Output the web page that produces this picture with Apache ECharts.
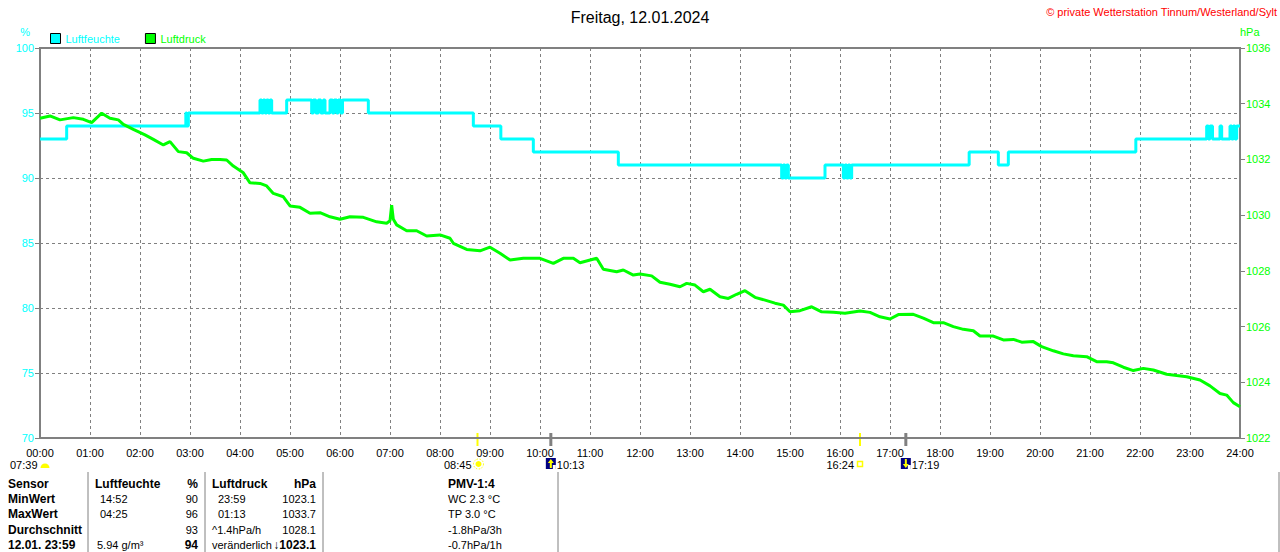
<!DOCTYPE html>
<html>
<head>
<meta charset="utf-8">
<title>Freitag, 12.01.2024</title>
<script src="https://cdn.jsdelivr.net/npm/echarts@6/dist/echarts.min.js"></script>
<style>
  html, body { margin: 0; padding: 0; background: #fff; }
  #main { width: 1280px; height: 552px; }
</style>
</head>
<body>
<div id="main"></div>
<script>
var FONT = 'Liberation Sans, Arial, sans-serif';

// Luftfeuchte (%) - Stufenwerte, Zeit in Minuten seit 00:00
var humTime = [0, 32, 175, 176, 178, 264, 266, 268, 270, 272, 274, 276, 278, 296,
    326, 328, 331, 334, 337, 340, 342, 348, 351, 353, 356, 358, 361, 363, 394,
    520, 553, 592, 694, 890, 892, 894, 896, 898, 942, 964, 966, 968, 970, 972, 974,
    1115, 1150, 1162, 1315, 1400, 1402, 1404, 1407, 1416, 1418, 1428, 1430, 1432, 1434, 1436, 1440];
var humValue = [93, 94, 95, 94, 95, 96, 95, 96, 95, 96, 95, 96, 95, 96,
    95, 96, 95, 96, 95, 96, 95, 96, 95, 96, 95, 96, 95, 96, 95,
    94, 93, 92, 91, 90, 91, 90, 91, 90, 91, 90, 91, 90, 91, 90, 91,
    92, 91, 92, 93, 94, 93, 94, 93, 94, 93, 94, 93, 94, 93, 94, 94];

// Luftdruck (hPa)
var pressTime = [0, 12, 24, 40, 52, 62, 74, 84, 94, 100, 112, 126, 136, 148, 156, 166, 176, 184,
    196, 206, 216, 224, 232, 244, 252, 264, 272, 280, 292, 300, 312, 324, 336, 348, 360, 372,
    388, 404, 416, 420, 422, 424, 428, 440, 452, 464, 480, 492, 496, 512, 528, 540, 552, 564,
    580, 600, 616, 628, 640, 648, 668, 676, 692, 700, 712, 720, 734, 744, 756, 768, 776, 786,
    796, 804, 816, 826, 836, 846, 858, 870, 882, 892, 900, 912, 926, 938, 952, 966, 984, 996,
    1008, 1020, 1030, 1048, 1060, 1072, 1084, 1096, 1108, 1120, 1128, 1144, 1156, 1168, 1178,
    1192, 1202, 1216, 1228, 1240, 1256, 1268, 1280, 1288, 1300, 1312, 1324, 1336, 1352, 1364,
    1376, 1392, 1404, 1416, 1424, 1432, 1440];
var pressValue = [1033.48, 1033.56, 1033.42, 1033.50, 1033.44, 1033.32, 1033.66, 1033.48, 1033.42,
    1033.26, 1033.08, 1032.88, 1032.72, 1032.52, 1032.64, 1032.28, 1032.24, 1032.04,
    1031.94, 1032.00, 1032.00, 1031.98, 1031.76, 1031.52, 1031.16, 1031.14, 1031.05, 1030.78,
    1030.66, 1030.33, 1030.28, 1030.07, 1030.09, 1029.94, 1029.85, 1029.94,
    1029.92, 1029.76, 1029.71, 1029.80, 1030.36, 1029.85, 1029.65, 1029.44, 1029.44, 1029.25,
    1029.29, 1029.17, 1028.99, 1028.77, 1028.72, 1028.85, 1028.63, 1028.39,
    1028.45, 1028.45, 1028.27, 1028.45, 1028.45, 1028.29, 1028.45, 1028.06, 1027.97, 1028.03,
    1027.85, 1027.89, 1027.82, 1027.59, 1027.52, 1027.43, 1027.55, 1027.49,
    1027.25, 1027.34, 1027.07, 1027.01, 1027.16, 1027.29, 1027.05, 1026.95, 1026.84, 1026.77,
    1026.53, 1026.57, 1026.71, 1026.53, 1026.51, 1026.48, 1026.56, 1026.51,
    1026.35, 1026.27, 1026.43, 1026.44, 1026.30, 1026.14, 1026.14, 1026.00, 1025.90, 1025.85,
    1025.66, 1025.66, 1025.52, 1025.54, 1025.44,
    1025.46, 1025.28, 1025.13, 1025.02, 1024.95, 1024.92, 1024.74, 1024.74, 1024.70, 1024.54,
    1024.42, 1024.50, 1024.44, 1024.29, 1024.24,
    1024.20, 1024.08, 1023.87, 1023.60, 1023.54, 1023.27, 1023.12];

// Sonnenauf-/untergang, Mondauf-/untergang (Minuten)
var sunTimes = [525, 613, 984, 1039];
var sunLabels = ['08:45', '10:13', '16:24', '17:19'];

// Tabelle unten
var tableRows = [
    ['Sensor', 'Luftfeuchte', '', '%', 'Luftdruck', '', 'hPa', 'PMV-1:4'],
    ['MinWert', '14:52', '', '90', '23:59', '', '1023.1', 'WC 2.3 °C'],
    ['MaxWert', '04:25', '', '96', '01:13', '', '1033.7', 'TP 3.0 °C'],
    ['Durchschnitt', '', '', '93', '^1.4hPa/h', '', '1028.1', '-1.8hPa/3h'],
    ['12.01. 23:59', '5.94 g/m³', '', '94', 'veränderlich', '', '↓1023.1', '-0.7hPa/1h']
];
var tableSeps = [88, 205, 323, 558, 1279];

function pad(n) { return (n < 10 ? '0' : '') + n; }

var myChart = echarts.init(document.getElementById('main'), null, { renderer: 'svg' });

var option = {
    animation: false,
    backgroundColor: '#fff',
    textStyle: { fontFamily: FONT },
    title: {
        text: 'Freitag, 12.01.2024',
        left: 'center',
        top: 4,
        textStyle: { fontSize: 16, fontWeight: 'normal', color: '#000', fontFamily: FONT }
    },
    legend: {
        left: 50,
        top: 33,
        padding: 0,
        itemWidth: 10,
        itemHeight: 10,
        itemGap: 25,
        icon: 'rect',
        textStyle: { fontSize: 11, fontFamily: FONT },
        data: [
            { name: 'Luftfeuchte', textStyle: { color: '#00ffff' }, itemStyle: { color: '#00ffff', borderColor: '#000', borderWidth: 1 } },
            { name: 'Luftdruck', textStyle: { color: '#00ff00' }, itemStyle: { color: '#00ff00', borderColor: '#000', borderWidth: 1 } }
        ]
    },
    grid: {
        left: 40, right: 40, top: 48, bottom: 114,
        show: true, borderColor: '#808080', borderWidth: 2
    },
    xAxis: {
        type: 'value',
        min: 0,
        max: 1440,
        interval: 60,
        axisLine: { show: true, lineStyle: { color: '#808080', width: 2 } },
        axisTick: { show: false },
        axisLabel: {
            color: '#000', fontSize: 11, fontFamily: FONT, margin: 9,
            showMaxLabel: true,
            formatter: function (v) { return pad(Math.floor(v / 60)) + ':00'; }
        },
        splitLine: { show: true, lineStyle: { color: '#808080', type: [3, 3], width: 1 } }
    },
    yAxis: [
        {
            type: 'value',
            min: 70,
            max: 100,
            interval: 5,
            position: 'left',
            name: '%',
            nameLocation: 'end',
            nameGap: 11,
            nameTextStyle: { color: '#00ffff', fontSize: 11, fontFamily: FONT, align: 'right', padding: [0, 10, 0, 0] },
            axisLine: { show: true, lineStyle: { color: '#808080', width: 2 } },
            axisTick: { show: true, length: 5, lineStyle: { color: '#808080' } },
            axisLabel: { color: '#00ffff', fontSize: 11, fontFamily: FONT, margin: 6 },
            splitLine: { show: true, lineStyle: { color: '#808080', type: [3, 3], width: 1 } }
        },
        {
            type: 'value',
            min: 1022,
            max: 1036,
            interval: 2,
            position: 'right',
            name: 'hPa',
            nameLocation: 'end',
            nameGap: 11,
            nameTextStyle: { color: '#00ff00', fontSize: 11, fontFamily: FONT, align: 'left', padding: [0, 0, 0, 0] },
            axisLine: { show: true, lineStyle: { color: '#808080', width: 2 } },
            axisTick: { show: true, length: 5, lineStyle: { color: '#808080' } },
            axisLabel: {
                color: '#00ff00', fontSize: 11, fontFamily: FONT, margin: 6,
                formatter: function (v) { return String(v); }
            },
            splitLine: { show: false }
        }
    ],
    series: [
        {
            name: 'Luftfeuchte',
            type: 'line',
            yAxisIndex: 0,
            step: 'end',
            showSymbol: false,
            color: '#00ffff',
            lineStyle: { color: '#00ffff', width: 3 },
            data: humTime.map(function (t, i) { return [t, humValue[i]]; })
        },
        {
            name: 'Luftdruck',
            type: 'line',
            yAxisIndex: 1,
            showSymbol: false,
            color: '#00ff00',
            lineStyle: { color: '#00ff00', width: 3 },
            data: pressTime.map(function (t, i) { return [t, pressValue[i]]; })
        }
    ]
};

myChart.setOption(option);

// Beschriftungen, Symbole und Tabelle
var g = [];
g.push({
    type: 'text', x: 1277, y: 12,
    style: { text: '© private Wetterstation Tinnum/Westerland/Sylt', fill: '#ff0000', font: '11px ' + FONT, textAlign: 'right', textVerticalAlign: 'middle' }
});

// 07:39 links
g.push({ type: 'text', x: 10, y: 465, style: { text: '07:39', fill: '#000', font: '11px ' + FONT, textAlign: 'left', textVerticalAlign: 'middle' } });
g.push({ type: 'sector', shape: { cx: 45, cy: 468, r0: 0, r: 4.5, startAngle: Math.PI, endAngle: Math.PI * 2 }, style: { fill: '#ffff00' } });

var axisY = myChart.convertToPixel({ yAxisIndex: 0 }, 70);
sunTimes.forEach(function (t, i) {
    var px = myChart.convertToPixel({ xAxisIndex: 0 }, t);
    var yellow = (i % 2 === 0);
    g.push({
        type: 'line',
        shape: { x1: px, y1: axisY - 5, x2: px, y2: axisY + 8 },
        style: { stroke: yellow ? '#ffff00' : '#808080', lineWidth: yellow ? 2 : 3 }
    });
    if (i === 0) {
        g.push({ type: 'circle', shape: { cx: px + 1, cy: 464, r: 3 }, style: { fill: '#ffff00' } });
        g.push({ type: 'circle', shape: { cx: px + 1, cy: 464, r: 5 }, style: { fill: 'none', stroke: '#ffff00', lineWidth: 1, lineDash: [1.5, 1.5] } });
        g.push({ type: 'text', x: px - 6, y: 465, style: { text: sunLabels[i], fill: '#000', font: '11px ' + FONT, textAlign: 'right', textVerticalAlign: 'middle' } });
    } else if (i === 2) {
        g.push({ type: 'rect', shape: { x: px - 2.5, y: 461.5, width: 5, height: 5 }, style: { fill: 'none', stroke: '#ffff00', lineWidth: 1.5 } });
        g.push({ type: 'text', x: px - 6, y: 465, style: { text: sunLabels[i], fill: '#000', font: '11px ' + FONT, textAlign: 'right', textVerticalAlign: 'middle' } });
    } else {
        g.push({ type: 'rect', shape: { x: px - 5, y: 458, width: 10, height: 11 }, style: { fill: '#000080' } });
        g.push({ type: 'polygon', shape: { points: i === 1 ? [[px, 459], [px + 3, 463], [px + 1, 463], [px + 1, 468], [px - 1, 468], [px - 1, 463], [px - 3, 463]]
                                                             : [[px, 468], [px + 3, 464], [px + 1, 464], [px + 1, 459], [px - 1, 459], [px - 1, 464], [px - 3, 464]] },
                 style: { fill: '#ffff00' } });
        g.push({ type: 'rect', shape: { x: px + 2, y: 465, width: 3, height: 4 }, style: { fill: '#ffffff' } });
        g.push({ type: 'text', x: px + 6, y: 465, style: { text: sunLabels[i], fill: '#000', font: '11px ' + FONT, textAlign: 'left', textVerticalAlign: 'middle' } });
    }
});

// Tabelle
tableSeps.forEach(function (x) {
    g.push({ type: 'line', shape: { x1: x, y1: 472, x2: x, y2: 552 }, style: { stroke: '#808080', lineWidth: 1 } });
});
var colX = [8, 100, 0, 198, 218, 0, 316, 448];
var colAlign = ['left', 'left', 'left', 'right', 'left', 'left', 'right', 'left'];
tableRows.forEach(function (row, r) {
    var y = 484 + r * 15.2;
    row.forEach(function (txt, c) {
        if (!txt) return;
        var bold = (r === 0) || c === 0 || (r === 4 && (c === 3 || c === 6));
        var x = colX[c];
        if (r === 0 && c === 1) x = 95;
        if (r === 0 && c === 4) x = 212;
        if (r >= 3 && c === 4) x = 212;
        if (r === 4 && c === 1) x = 97;
        g.push({
            type: 'text', x: x, y: y,
            style: { text: txt, fill: '#000', font: (bold ? 'bold 12px ' : '11px ') + FONT, textAlign: colAlign[c], textVerticalAlign: 'middle' }
        });
    });
});

myChart.setOption({ graphic: g });
</script>
</body>
</html>
